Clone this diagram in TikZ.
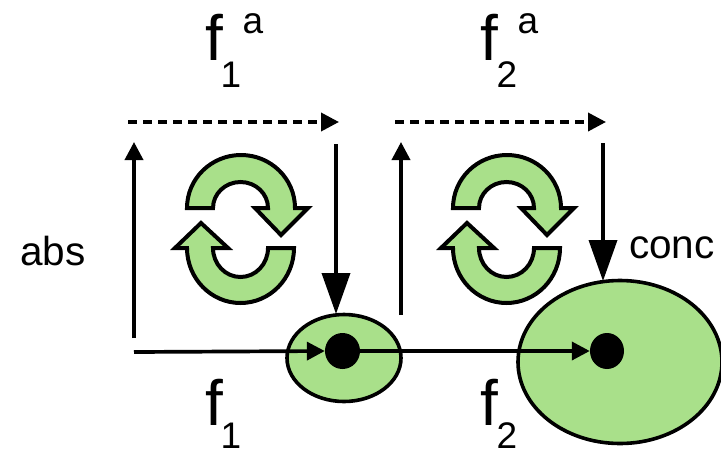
\documentclass[tikz,border=0pt]{standalone}
\usepackage{fontspec}
\setmainfont{Liberation Sans}
\usetikzlibrary{shapes.geometric,arrows.meta}
\definecolor{lgreen}{HTML}{A9E08A}
\newcommand{\cyc}[1]{%
  \begin{scope}[shift={(#1,0)}]
    \draw[cyc] (187,208) arc[start angle=180,end angle=0,x radius=54pt,y radius=53pt]
      -- (308,208) -- (281,235) -- (255,208) -- (268,208)
      arc[start angle=0,end angle=180,x radius=27.5pt,y radius=26pt] -- cycle;
    \draw[cyc] (294,248) arc[start angle=0,end angle=-180,x radius=53.5pt,y radius=55pt]
      -- (175,248) -- (201,223) -- (228,248) -- (213,248)
      arc[start angle=-180,end angle=0,x radius=27.5pt,y radius=29pt] -- cycle;
  \end{scope}}
\tikzset{
  x=1pt,y=-1pt,
  lab/.style={inner sep=0pt,font=\fontsize{64}{64}\selectfont,anchor=base},
  sub/.style={inner sep=0pt,font=\fontsize{37}{37}\selectfont,anchor=base},
  txt/.style={inner sep=0pt,font=\fontsize{40.5}{41}\selectfont,anchor=base},
  cyc/.style={draw=black,line width=4pt,fill=lgreen,line join=miter},
  blob/.style={ellipse,draw=black,line width=3.6pt,fill=lgreen,inner sep=0pt},
  dot/.style={ellipse,fill=black,inner sep=0pt},
  conn/.style={line width=3.7pt,-{Triangle[length=18pt,width=18pt]}},
  bigconn/.style={line width=3.7pt,-{Triangle[length=41pt,width=28pt]}},
  dconn/.style={line width=3.7pt,dash pattern=on 9pt off 6pt,-{Triangle[length=18pt,width=18pt]}},
}
\begin{document}
\begin{tikzpicture}
\useasboundingbox (0,0) rectangle (721,451);
\clip (0,0) rectangle (721,451);
\cyc{0}
\cyc{266}
\node[blob,minimum width=114pt,minimum height=87pt] (e1) at (344,358) {};
\node[blob,minimum width=204pt,minimum height=163pt] (e2) at (620,362) {};
\node[dot,minimum width=35pt,minimum height=36pt] (d1) at (342.5,351) {};
\node[dot,minimum width=34pt,minimum height=36pt] (d2) at (607,351) {};
\coordinate (a) at (134,352);
\coordinate (u1s) at (134,338);
\coordinate (u1e) at (134,142);
\coordinate (u2s) at (401,315);
\coordinate (u2e) at (401,142);
\coordinate (t1s) at (128,122);
\coordinate (t1e) at (339,122);
\coordinate (t2s) at (395,122);
\coordinate (t2e) at (606,122);
\coordinate (v1) at (336,144);
\coordinate (v1e) at (336,314);
\coordinate (v2) at (603,143);
\coordinate (v2e) at (603,281);
\draw[conn] (a) -- (d1.west);
\draw[conn] (d1.east) -- (d2.west);
\draw[conn] (u1s) -- (u1e);
\draw[conn] (u2s) -- (u2e);
\draw[dconn] (t1s) -- (t1e);
\draw[dconn] (t2s) -- (t2e);
\draw[bigconn] (v1) -- (v1e);
\draw[bigconn] (v2) -- (v2e);
\node[lab] (f1a) at (214,60) {f};
\node[sub] (f1as) at (231,87) {1};
\node[sub] (f1at) at (253,33) {a};
\node[lab] (f2a) at (489,60) {f};
\node[sub] (f2as) at (507,87) {2};
\node[sub] (f2at) at (528,33) {a};
\node[lab] (f1b) at (214,425) {f};
\node[sub] (f1bs) at (231,448) {1};
\node[lab] (f2b) at (489,425) {f};
\node[sub] (f2bs) at (507,448) {2};
\node[txt] (abs) at (53,265) {abs};
\node[txt] (conc) at (672,258) {conc};
\end{tikzpicture}
\end{document}
